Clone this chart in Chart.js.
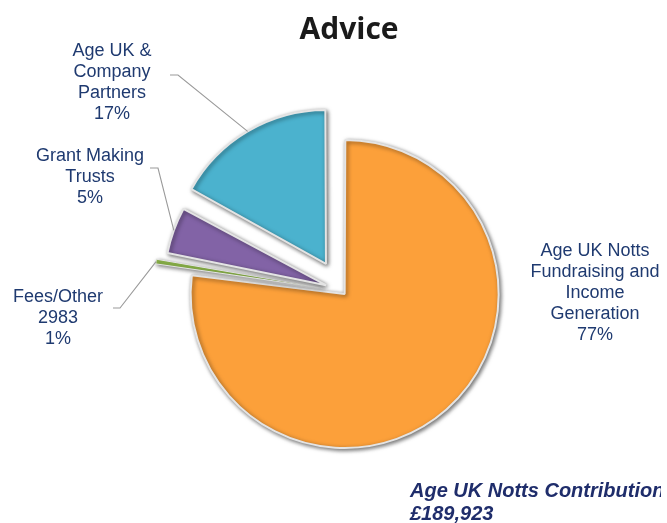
<!DOCTYPE html>
<html><head><meta charset="utf-8">
<script src="https://cdn.jsdelivr.net/npm/chart.js@4.4.1/dist/chart.umd.min.js"></script>
<style>html,body{margin:0;padding:0;background:#fff}#wrap{width:667px;height:523px;position:relative}</style>
</head><body><div id="wrap"><canvas id="c"></canvas></div>
<script>
// ---- data ----
const categories = ['Age UK Notts Fundraising and Income Generation', 'Fees/Other', 'Grant Making Trusts', 'Age UK & Company Partners'];
const shares = [77, 1, 5, 17];
const labelLines = [
  ['Age UK Notts', 'Fundraising and', 'Income', 'Generation', '77%'],
  ['Fees/Other', '2983', '1%'],
  ['Grant Making', 'Trusts', '5%'],
  ['Age UK &', 'Company', 'Partners', '17%']
];
const chartTitle = 'Advice';
const footnote = ['Age UK Notts Contribution', '£189,923'];

// ---- styling / layout ----
const sliceColors = ['#FCA03A', '#93BE4E', '#8263A6', '#4BB2CE'];
const sliceBorders = [2, 1, 2, 2];
const sliceOffsets = [16, 79, 68, 126];
const labelPos = [
  {x: 595, y: 251, leader: null},
  {x: 58, y: 297, leader: [113, 308, 120, 308]},
  {x: 90, y: 156, leader: [150, 168, 158, 168]},
  {x: 112, y: 51, leader: [170, 75, 178, 75]}
];
const lineH = 21;
const navy = '#1F3A70';

const shadowPlugin = {
  id: 'shadow',
  beforeDatasetsDraw(chart) {
    const c = chart.ctx; c.save();
    c.shadowColor = 'rgba(0,0,0,0.55)'; c.shadowBlur = 4; c.shadowOffsetX = 1.5; c.shadowOffsetY = 1.5;
  },
  afterDatasetsDraw(chart) { chart.ctx.restore(); }
};

function arcMidPoint(el) {
  const half = (el.startAngle + el.endAngle) / 2;
  const circ = el.endAngle - el.startAngle;
  const off = (el.options.offset || 0) / 4;
  const fix = 1 - Math.sin(Math.min(Math.PI, circ));
  const r = el.outerRadius + off * fix;
  return [el.x + Math.cos(half) * (off + r), el.y + Math.sin(half) * (off + r)];
}

const textPlugin = {
  id: 'texts',
  afterDraw(chart) {
    const c = chart.ctx;
    c.save();
    c.fillStyle = '#1a1a1a';
    c.font = 'bold 30px "Open Sans"';
    c.textAlign = 'center'; c.textBaseline = 'alphabetic';
    c.fillText(chartTitle, 349, 39);
    c.beginPath(); c.rect(0, 0, 661, 523); c.clip();
    const meta = chart.getDatasetMeta(0);
    c.strokeStyle = '#9a9a9a'; c.lineWidth = 1.1;
    labelPos.forEach((p, i) => {
      if (!p.leader) return;
      const [mx, my] = arcMidPoint(meta.data[i]);
      c.beginPath();
      c.moveTo(p.leader[0], p.leader[1]);
      c.lineTo(p.leader[2], p.leader[3]);
      c.lineTo(mx, my);
      c.stroke();
    });
    c.fillStyle = navy;
    c.font = '18px "Liberation Sans", Arial, sans-serif';
    c.textAlign = 'center'; c.textBaseline = 'middle';
    labelLines.forEach((lines, i) => {
      const p = labelPos[i];
      lines.forEach((ln, k) => c.fillText(ln, p.x, p.y + k * lineH));
    });
    c.fillStyle = '#1F2D6B';
    c.font = 'italic bold 20px "Liberation Sans", Arial, sans-serif';
    c.textAlign = 'left';
    footnote.forEach((ln, k) => c.fillText(ln, 410, 491 + k * 23));
    c.restore();
  }
};

new Chart(document.getElementById('c'), {
  type: 'pie',
  data: {
    labels: categories,
    datasets: [{
      data: shares,
      backgroundColor: sliceColors,
      borderColor: '#e4e4e4',
      borderWidth: sliceBorders,
      offset: sliceOffsets,
      hoverOffset: 0,
      clip: false
    }]
  },
  options: {
    responsive: true,
    maintainAspectRatio: false,
    animation: false,
    events: [],
    radius: 150,
    layout: {padding: {top: 64, bottom: 5, left: 17, right: 0}},
    plugins: {legend: {display: false}, tooltip: {enabled: false}, title: {display: false}}
  },
  plugins: [shadowPlugin, textPlugin]
});
</script>
</body></html>
